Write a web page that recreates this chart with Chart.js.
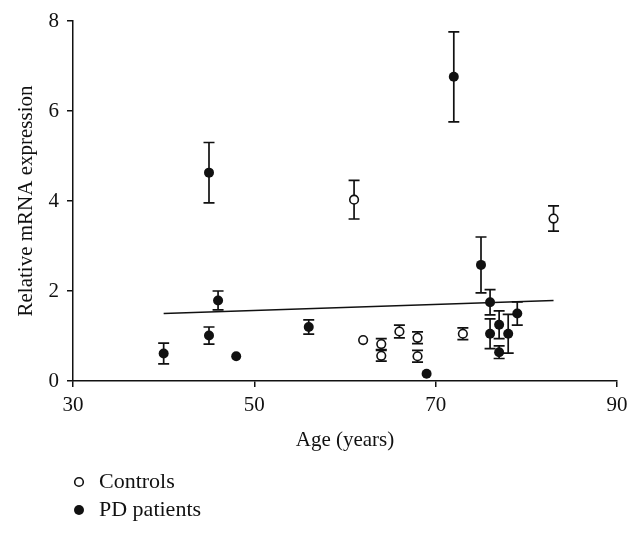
<!DOCTYPE html>
<html>
<head>
<meta charset="utf-8">
<script src="https://cdn.jsdelivr.net/npm/chart.js@4/dist/chart.umd.min.js"></script>
<style>
html,body{margin:0;padding:0;background:#fff;}
#wrap{width:640px;height:534px;position:relative;}
</style>
</head>
<body>
<div id="wrap"><canvas id="c" width="640" height="534"></canvas></div>
<script>
// Controls
const controlAges = [61, 62, 64, 64, 66, 68, 68, 73, 83];
const controlValues = [4.03, 0.91, 0.82, 0.56, 1.10, 0.96, 0.55, 1.05, 3.61];
const controlErrors = [0.43, 0, 0.12, 0.12, 0.14, 0.13, 0.13, 0.13, 0.28];
// PD patients
const pdAges = [40, 45, 45, 46, 48, 56, 69, 72, 75, 76, 76, 77, 77, 78, 79];
const pdValues = [0.61, 1.01, 4.63, 1.79, 0.55, 1.20, 0.16, 6.76, 2.58, 1.75, 1.05, 1.25, 0.64, 1.05, 1.50];
const pdErrors = [0.23, 0.19, 0.67, 0.21, 0, 0.16, 0, 1.00, 0.62, 0.28, 0.33, 0.31, 0.14, 0.43, 0.26];
// Regression line
const fitAges = [40, 83];
const fitValues = [1.50, 1.79];
// Ticks / labels
const xTicks = [30, 50, 70, 90];
const yTicks = [0, 2, 4, 6, 8];
const xTitle = 'Age (years)';
const yTitle = 'Relative mRNA expression';
const legendLabels = ['Controls', 'PD patients'];

const FONT = '"Liberation Serif", "Times New Roman", serif';
const FS = 21;

const toPts = (xs, ys) => xs.map((x, i) => ({x: x, y: ys[i]}));

const errorBars = {
  id: 'errorBars',
  beforeDatasetsDraw(chart) {
    const ctx = chart.ctx, xs = chart.scales.x, ys = chart.scales.y;
    ctx.save();
    ctx.strokeStyle = '#111';
    ctx.lineWidth = 1.7;
    chart.data.datasets.forEach(ds => {
      if (!ds.errors) return;
      ds.data.forEach((p, i) => {
        const e = ds.errors[i];
        if (!e) return;
        const px = xs.getPixelForValue(p.x);
        const t = ys.getPixelForValue(p.y + e);
        const b = ys.getPixelForValue(p.y - e);
        ctx.beginPath();
        ctx.moveTo(px, t); ctx.lineTo(px, b);
        ctx.moveTo(px - 5.5, t); ctx.lineTo(px + 5.5, t);
        ctx.moveTo(px - 5.5, b); ctx.lineTo(px + 5.5, b);
        ctx.stroke();
      });
    });
    ctx.restore();
  }
};

const extras = {
  id: 'extras',
  afterDraw(chart) {
    const ctx = chart.ctx, a = chart.chartArea;
    ctx.save();
    ctx.fillStyle = '#111';
    ctx.font = FS + 'px ' + FONT;
    ctx.textAlign = 'center';
    ctx.textBaseline = 'middle';
    ctx.fillText(xTitle, (a.left + a.right) / 2, 440);
    ctx.save();
    ctx.translate(26, (a.top + a.bottom) / 2);
    ctx.rotate(-Math.PI / 2);
    ctx.fillText(yTitle, 0, 0);
    ctx.restore();
    // legend
    ctx.font = '22px ' + FONT;
    ctx.textAlign = 'left';
    const rows = [482, 510];
    rows.forEach((y, i) => {
      ctx.beginPath();
      ctx.arc(79, y, i === 0 ? 4.3 : 5, 0, Math.PI * 2);
      if (i === 0) { ctx.fillStyle = '#fff'; ctx.fill(); ctx.lineWidth = 1.6; ctx.strokeStyle = '#111'; ctx.stroke(); }
      else { ctx.fillStyle = '#111'; ctx.fill(); }
      ctx.fillStyle = '#111';
      ctx.fillText(legendLabels[i], 99, y);
    });
    ctx.restore();
  }
};

new Chart(document.getElementById('c'), {
  type: 'scatter',
  data: {
    datasets: [
      {
        label: legendLabels[0],
        data: toPts(controlAges, controlValues),
        errors: controlErrors,
        pointRadius: 4.3,
        pointBorderWidth: 1.6,
        pointBackgroundColor: '#fff',
        pointBorderColor: '#111',
        order: 1
      },
      {
        label: legendLabels[1],
        data: toPts(pdAges, pdValues),
        errors: pdErrors,
        pointRadius: 5,
        pointBorderWidth: 0,
        pointBackgroundColor: '#111',
        pointBorderColor: '#111',
        order: 1
      },
      {
        type: 'line',
        label: 'fit',
        data: toPts(fitAges, fitValues),
        borderColor: '#111',
        borderWidth: 1.5,
        pointRadius: 0,
        fill: false,
        order: 2
      }
    ]
  },
  options: {
    responsive: false,
    animation: false,
    layout: { padding: { left: 0, right: 23, top: 21, bottom: 93 } },
    plugins: { legend: { display: false }, tooltip: { enabled: false } },
    scales: {
      x: {
        type: 'linear',
        min: 30, max: 90,
        afterFit(s) { s.height = 60; },
        afterBuildTicks(s) { s.ticks = xTicks.map(v => ({value: v})); },
        border: { display: true, color: '#111', width: 1.5 },
        grid: { display: true, drawOnChartArea: false, drawTicks: true, tickLength: 6, color: '#111', lineWidth: 1.5 },
        ticks: { color: '#111', font: { family: FONT, size: FS }, padding: 6, maxRotation: 0 }
      },
      y: {
        type: 'linear',
        min: 0, max: 8,
        afterFit(s) { s.width = 73; },
        afterBuildTicks(s) { s.ticks = yTicks.map(v => ({value: v})); },
        border: { display: true, color: '#111', width: 1.5 },
        grid: { display: true, drawOnChartArea: false, drawTicks: true, tickLength: 6, color: '#111', lineWidth: 1.5 },
        ticks: { color: '#111', font: { family: FONT, size: FS }, padding: 8 }
      }
    }
  },
  plugins: [errorBars, extras]
});
</script>
</body>
</html>
